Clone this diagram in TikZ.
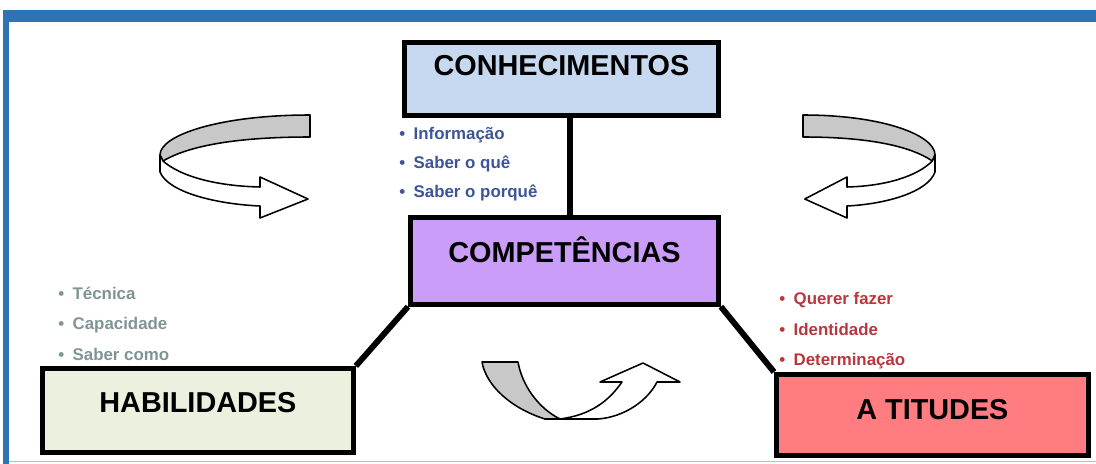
\documentclass[tikz,border=0pt]{standalone}
\usepackage{fontspec}
\setmainfont{Liberation Sans}
\usetikzlibrary{positioning}
\definecolor{framebl}{RGB}{46,116,181}
\definecolor{framelt}{RGB}{150,200,235}
\definecolor{confill}{RGB}{198,217,240}
\definecolor{compfill}{RGB}{202,158,248}
\definecolor{habfill}{RGB}{235,241,222}
\definecolor{attfill}{RGB}{255,124,128}
\definecolor{context}{RGB}{60,85,150}
\definecolor{habtext}{RGB}{128,148,148}
\definecolor{atttext}{RGB}{185,55,60}
\definecolor{ribgray}{RGB}{200,200,200}
\tikzstyle{box} = [draw, line width=3.5pt, inner sep=0pt, anchor=north west,
    font=\fontsize{20.5}{24}\selectfont\bfseries]
\tikzstyle{item} = [inner sep=0pt, anchor=base west,
    font=\fontsize{12}{14}\selectfont\bfseries]
\tikzstyle{link} = [line width=4.2pt]
\tikzstyle{back} = [draw, fill=ribgray, line width=1.1pt, line join=round]
\tikzstyle{front} = [draw, fill=white, line width=1.1pt, line join=round]
% twisted ribbon arrow, drawn for the left side
\newcommand{\turnarrow}{%
  \path[back] (310,115) .. controls (220,115) and (160,135) .. (160,155)
    -- (163,161) .. controls (190,145) and (240,137) .. (310,137) -- cycle;
  \path[front] (160,155) -- (160,172) .. controls (168,192) and (215,204) .. (260,206)
    -- (260,218) -- (308,199) -- (260,177) -- (260,187)
    .. controls (215,186) and (180,176) .. (163,161) -- cycle;}
\begin{document}
\begin{tikzpicture}[x=0.025cm, y=-0.025cm]
	  \useasboundingbox (0,0) rectangle (1096,464);
	  % frame
	  \fill[framebl] (3,10) rectangle (1096,22);
	  \fill[framebl] (3,10) rectangle (9,464);
	  \draw[framelt, line width=1.2pt] (9,461.5) -- (1096,461.5);
	  % boxes
	  \node [box, fill=confill, minimum width=223.2pt, text height=23.4pt, text depth=28.4pt] (con) at (402,40) {CONHECIMENTOS};
	  \node [box, fill=compfill, minimum width=219pt, text height=31.9pt, text depth=29.8pt] (comp) at (408,215) {COMPETÊNCIAS};
	  \node [box, fill=habfill, minimum width=221.1pt, text height=31.2pt, text depth=28.4pt] (hab) at (40,366) {HABILIDADES};
	  \node [box, fill=attfill, minimum width=221.8pt, text height=31.9pt, text depth=25.5pt] (att) at (774,372) {A TITUDES};
	  % connectors
	  \draw [link] ([xshift=6pt]con.south) -- ([xshift=6pt]con.south |- comp.north);
	  \draw [link] (comp.south west) -- (hab.north east);
	  \draw [link] (comp.south east) -- (att.north west);
	  % lists
	  \foreach \t [count=\i] in {Informação, Saber o quê, Saber o porquê}
	    \node [item, text=context] (con-\i) at (399,111+29*\i) {\textbullet\hspace{6pt}\t};
	  \foreach \t [count=\i] in {Técnica, Capacidade, Saber como}
	    \node [item, text=habtext] (hab-\i) at (58,270+30*\i) {\textbullet\hspace{6pt}\t};
	  \foreach \t [count=\i] in {Querer fazer, Identidade, Determinação}
	    \node [item, text=atttext] (att-\i) at (779,275+30*\i) {\textbullet\hspace{6pt}\t};
	  % ribbon arrows
	  \turnarrow
	  \begin{scope}[shift={(1075.8,0)}, xscale=-0.88]
	    \turnarrow
	  \end{scope}
	  \path[back] (482,362) -- (518,362) .. controls (522,385) and (538,408) .. (560,419)
	    -- (545,419) .. controls (510,408) and (486,385) .. (482,362) -- cycle;
	  \path[front] (545,419) -- (598,419) .. controls (625,417) and (648,400) .. (657,382)
	    -- (680,382) -- (643,363) -- (600,382) -- (622,382)
	    .. controls (608,402) and (590,415) .. (560,419) -- cycle;
	\end{tikzpicture}
\end{document}
